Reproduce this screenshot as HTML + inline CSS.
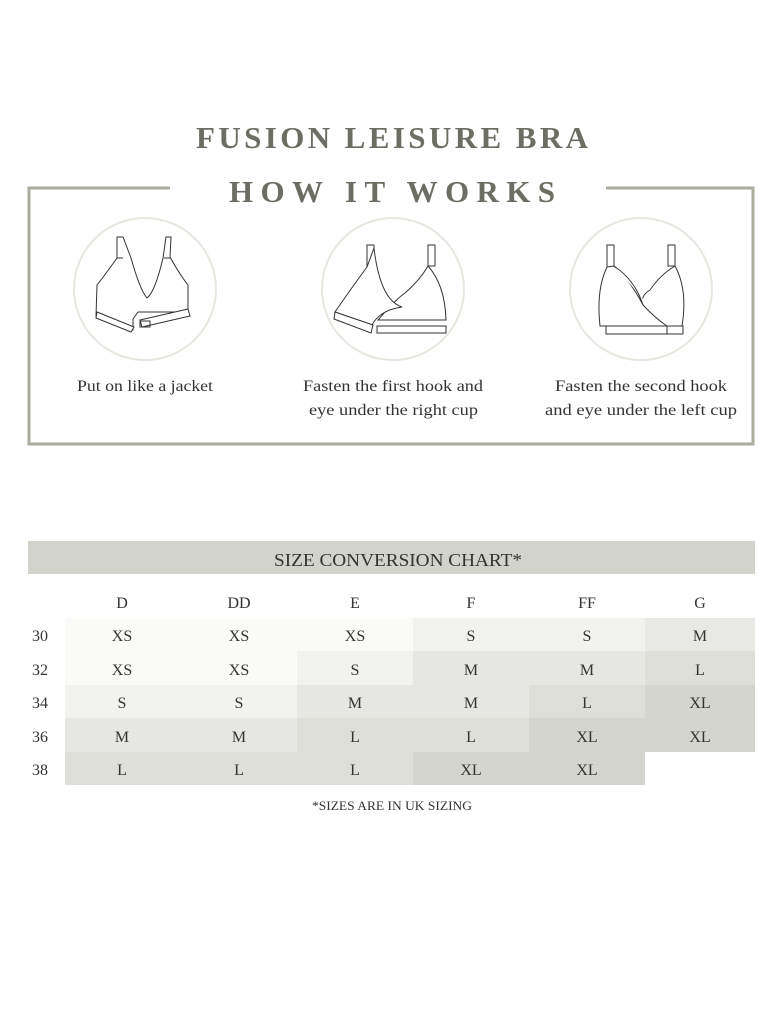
<!DOCTYPE html>
<html><head><meta charset="utf-8"><style>
html,body{margin:0;padding:0;background:#fff;}
svg{display:block;}
</style></head><body>
<svg width="780" height="1010" viewBox="0 0 780 1010" xmlns="http://www.w3.org/2000/svg">
<g font-family="Liberation Serif, serif" fill="#6b6e62" font-weight="bold">
<text x="196" y="148" font-size="31" textLength="392" lengthAdjust="spacing">FUSION LEISURE BRA</text>
<text x="229" y="202" font-size="31" textLength="326" lengthAdjust="spacing">HOW IT WORKS</text>
</g>
<g stroke="#a9ae9f" stroke-width="3" fill="none">
<polyline points="170,188 29,188 29,444 753,444 753,188 606,188"/>
</g>
<g stroke="#e8e6df" stroke-width="2" fill="none">
<circle cx="145" cy="289" r="71"/>
<circle cx="393" cy="289" r="71"/>
<circle cx="641" cy="289" r="71"/>
</g>
<g stroke="#333" stroke-width="1" fill="#fff">
<path d="M117,237 L123,237 L131,258 Q140,290 147,298 Q155,292 163,258 L166,237 L171,237 L170,257 Q180,275 188,285 L188,312 L138,312 L133,319 L133,330 L127,330 L96,316 L97,285 Q105,275 117,258 Z"/>
<path d="M97,312 L134,327 L131,332 L96,318 Z"/>
<path d="M140,320 L188,309 L190,316 L142,327 Z"/>
<path d="M140,321 L150,321 L150,327 L140,327 Z" fill="none"/>
<line x1="117" y1="258" x2="123" y2="258"/><line x1="164" y1="258" x2="170" y2="258"/>
</g>
<g stroke="#333" stroke-width="1" fill="#fff">
<rect x="367" y="245" width="7" height="22"/>
<rect x="428" y="245" width="7" height="21"/>
<path d="M428,266 Q445,285 446,320 L378,320 Q395,300 405,293 Q420,280 428,266 Z"/>
<path d="M374,248 Q380,300 402,307 Q380,310 372,325 L335,312 Q350,290 367,267 Z"/>
<path d="M335,312 L373,325 L371,333 L334,319 Z"/>
<rect x="377" y="326" width="69" height="7"/>
</g>
<g stroke="#333" stroke-width="1" fill="#fff">
<rect x="607" y="245" width="7" height="22"/>
<rect x="668" y="245" width="7" height="21"/>
<path d="M607,267 Q596,290 600,326 L682,326 Q688,290 675,266 Q660,275 650,290 Q640,296 643,305 Q630,280 614,266 Z"/>
<path d="M614,266 Q635,280 643,305 Q655,318 667,326"/>
<rect x="606" y="326" width="77" height="8"/>
<line x1="667" y1="326" x2="667" y2="334"/>
</g>
<g font-family="Liberation Serif, serif" fill="#333" font-size="16">
<text x="77" y="391" textLength="136" lengthAdjust="spacingAndGlyphs">Put on like a jacket</text>
<text x="303" y="391" textLength="180" lengthAdjust="spacingAndGlyphs">Fasten the first hook and</text>
<text x="309" y="415" textLength="169" lengthAdjust="spacingAndGlyphs">eye under the right cup</text>
<text x="555" y="391" textLength="172" lengthAdjust="spacingAndGlyphs">Fasten the second hook</text>
<text x="545" y="415" textLength="192" lengthAdjust="spacingAndGlyphs">and eye under the left cup</text>
</g>
<rect x="28" y="541" width="727" height="33" fill="#d2d3cb"/>
<text x="398" y="566" text-anchor="middle" font-family="Liberation Serif, serif" font-size="18" fill="#333" textLength="248" lengthAdjust="spacingAndGlyphs">SIZE CONVERSION CHART*</text>
<g>
<rect x="65" y="618" width="348" height="33" fill="#fafaf8"/>
<rect x="413" y="618" width="232" height="33" fill="#f2f2ef"/>
<rect x="645" y="618" width="110" height="33" fill="#e8e8e4"/>
<rect x="65" y="651" width="232" height="34" fill="#fafaf8"/>
<rect x="297" y="651" width="116" height="34" fill="#f2f2ef"/>
<rect x="413" y="651" width="232" height="34" fill="#e6e7e2"/>
<rect x="645" y="651" width="110" height="34" fill="#dedfd9"/>
<rect x="65" y="685" width="232" height="33" fill="#f2f2ef"/>
<rect x="297" y="685" width="232" height="33" fill="#e6e7e2"/>
<rect x="529" y="685" width="116" height="33" fill="#dedfd9"/>
<rect x="645" y="685" width="110" height="33" fill="#d4d5ce"/>
<rect x="65" y="718" width="232" height="34" fill="#e6e7e2"/>
<rect x="297" y="718" width="232" height="34" fill="#dedfd9"/>
<rect x="529" y="718" width="226" height="34" fill="#d4d5ce"/>
<rect x="65" y="752" width="348" height="33" fill="#dedfd9"/>
<rect x="413" y="752" width="232" height="33" fill="#d4d5ce"/>
</g>
<g font-family="Liberation Serif, serif" fill="#333" font-size="16" text-anchor="middle">
<text x="122" y="608">D</text><text x="239" y="608">DD</text><text x="355" y="608">E</text><text x="471" y="608">F</text><text x="587" y="608">FF</text><text x="700" y="608">G</text>
<text x="40" y="641">30</text><text x="40" y="675">32</text><text x="40" y="708">34</text><text x="40" y="742">36</text><text x="40" y="775">38</text>
<text x="122" y="641">XS</text><text x="239" y="641">XS</text><text x="355" y="641">XS</text><text x="471" y="641">S</text><text x="587" y="641">S</text><text x="700" y="641">M</text>
<text x="122" y="675">XS</text><text x="239" y="675">XS</text><text x="355" y="675">S</text><text x="471" y="675">M</text><text x="587" y="675">M</text><text x="700" y="675">L</text>
<text x="122" y="708">S</text><text x="239" y="708">S</text><text x="355" y="708">M</text><text x="471" y="708">M</text><text x="587" y="708">L</text><text x="700" y="708">XL</text>
<text x="122" y="742">M</text><text x="239" y="742">M</text><text x="355" y="742">L</text><text x="471" y="742">L</text><text x="587" y="742">XL</text><text x="700" y="742">XL</text>
<text x="122" y="775">L</text><text x="239" y="775">L</text><text x="355" y="775">L</text><text x="471" y="775">XL</text><text x="587" y="775">XL</text>
</g>
<text x="392" y="810" text-anchor="middle" font-family="Liberation Serif, serif" font-size="13" fill="#333" textLength="160" lengthAdjust="spacingAndGlyphs">*SIZES ARE IN UK SIZING</text>
</svg>
</body></html>
